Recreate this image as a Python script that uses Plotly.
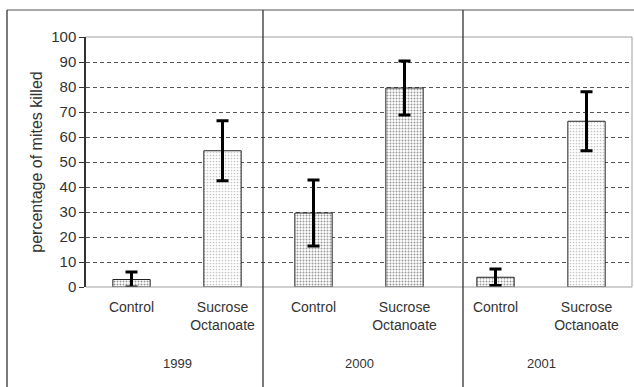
import plotly.graph_objects as go

years = ["1999", "2000", "2001"]
treatments = ["Control", "Sucrose<br>Octanoate"]
values = [3.0, 54.5, 29.6, 79.6, 3.9, 66.3]
errors = [3.0, 12.0, 13.2, 10.8, 3.3, 11.8]
dense = [True, False, True, True, True, False]
y_ticks = [0, 10, 20, 30, 40, 50, 60, 70, 80, 90, 100]
y_title = "percentage of mites killed"

x_pos = list(range(len(values)))
tick_text = [treatments[i % 2] for i in x_pos]

FONT = "Liberation Sans, Arial, sans-serif"
TXT = "#333333"

fig = go.Figure()
fig.add_trace(go.Bar(
    x=x_pos, y=values, width=0.41,
    marker=dict(
        color="white",
        line=dict(color="#222222", width=1),
        pattern=dict(
            shape=["." for _ in values],
            fgcolor=["#333333" if d else "#8a8a8a" for d in dense],
            bgcolor="white",
            size=[3 for d in dense],
            solidity=[0.33 if d else 0.25 for d in dense],
            fillmode="overlay",
        ),
    ),
    error_y=dict(type="data", array=errors, visible=True, color="black",
                 thickness=3, width=6),
    showlegend=False,
))

shapes = []
for x0, y0, x1, y1 in [(0, 1, 1, 1), (1, 0, 1, 1), (0, 0, 1, 0)]:
    shapes.append(dict(type="line", xref="paper", yref="paper", x0=x0, y0=y0,
                       x1=x1, y1=y1, line=dict(color="#a0a0a0", width=1)))
L, R, T, B = 86, 632, 37, 287
W, H = R - L, B - T
def px(x):
    return (x - L) / W
def py(y):
    return (B - y) / H
shapes.append(dict(type="line", xref="paper", yref="paper", x0=px(7), x1=px(640),
                   y0=py(10), y1=py(10), line=dict(color="#555555", width=1)))
for xs in [7, 263, 463]:
    shapes.append(dict(type="line", xref="paper", yref="paper", x0=px(xs), x1=px(xs),
                       y0=py(10), y1=py(395), line=dict(color="#333333", width=1.3)))

annotations = []
for g, yr in enumerate(years):
    annotations.append(dict(text=yr, x=2 * g + 0.5, xref="x", y=py(363), yref="paper",
                            showarrow=False, xanchor="center", yanchor="middle",
                            font=dict(size=13, color=TXT, family=FONT)))

fig.update_layout(
    width=634, height=387,
    margin=dict(l=L, r=634 - R, t=T, b=387 - B),
    paper_bgcolor="white", plot_bgcolor="white",
    font=dict(family=FONT, color=TXT),
    shapes=shapes, annotations=annotations,
    xaxis=dict(range=[-0.5, 5.5], tickvals=x_pos, ticktext=tick_text,
               showgrid=False, zeroline=False, showline=False, ticks="",
               tickfont=dict(size=14, color=TXT), ticklabelstandoff=10,
               automargin=False),
    yaxis=dict(range=[0, 100], tickvals=y_ticks, showgrid=True,
               gridcolor="#555555", griddash="4px,3px", gridwidth=1,
               zeroline=False, showline=True, linecolor="#333333", linewidth=1.5,
               ticks="outside", ticklen=5, tickcolor="#333333",
               tickfont=dict(size=15, color=TXT), automargin=False,
               title=dict(text=y_title, font=dict(size=16, color=TXT), standoff=5)),
)

fig.write_html("out.html", config={"displayModeBar": False},
               post_script="document.body.style.margin='0';document.body.style.padding='0';")
